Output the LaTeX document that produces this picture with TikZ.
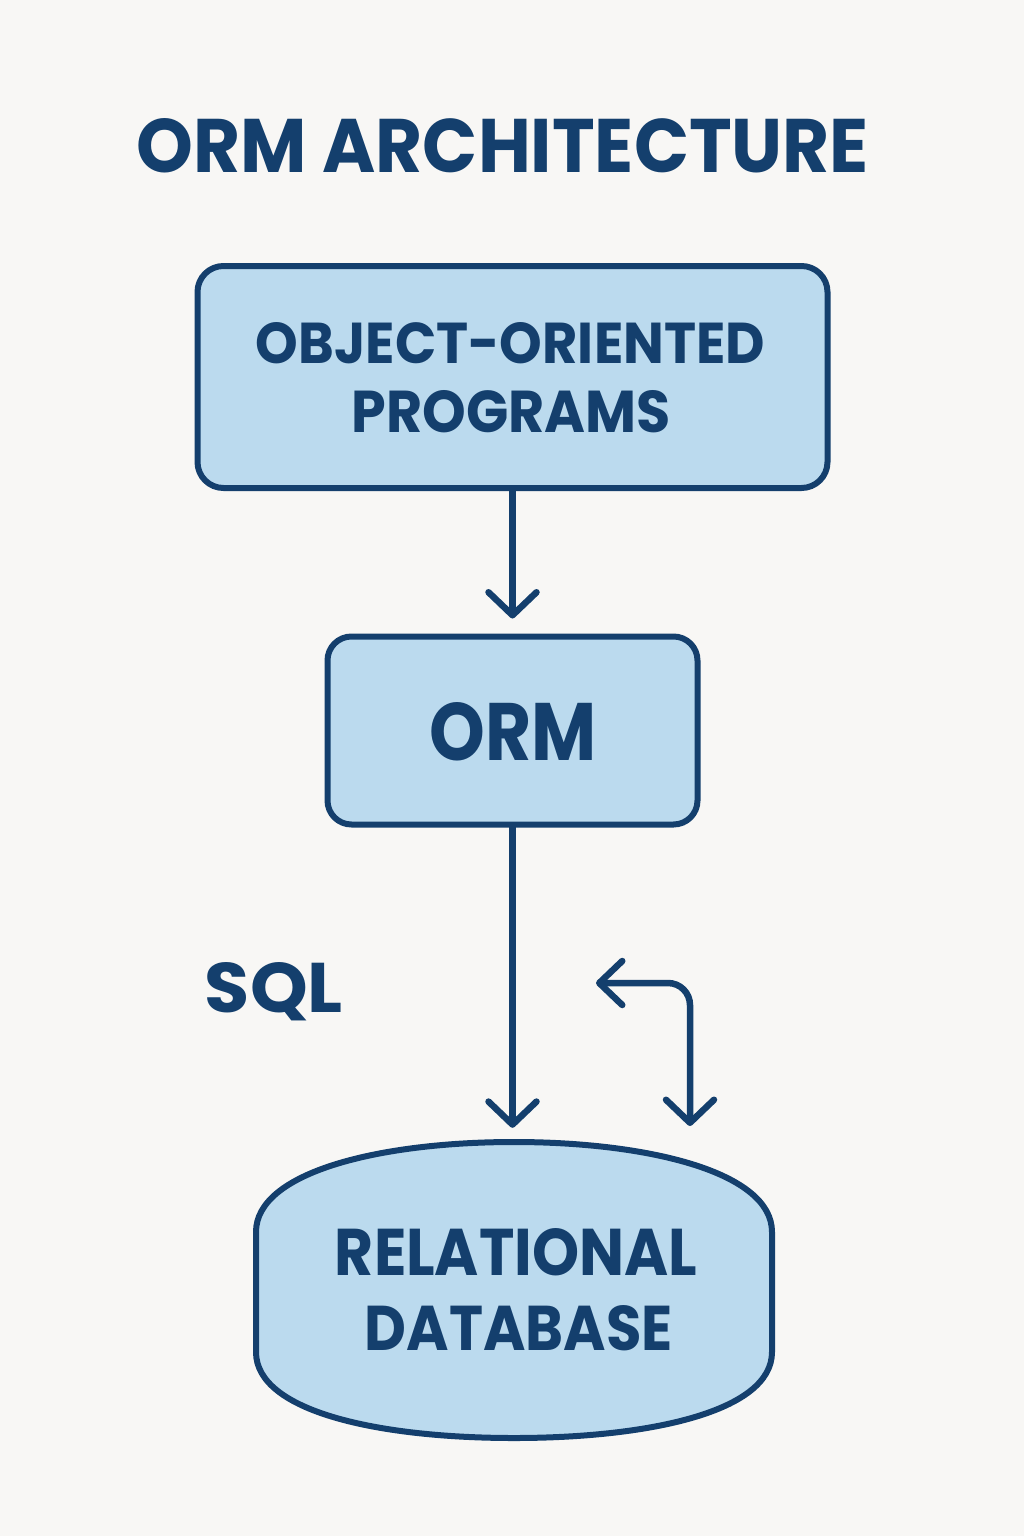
\documentclass[tikz,border=0pt]{standalone}
\usepackage{fontspec}
\setmainfont{Poppins}
\usepackage{graphicx}
\usetikzlibrary{arrows.meta}
\definecolor{navy}{HTML}{143F6D}
\definecolor{boxfill}{HTML}{BBDAEE}
\definecolor{bgc}{HTML}{F8F7F5}
\newcommand\fitt[3]{\resizebox{#1pt}{#2pt}{\bfseries #3}}
\begin{document}
\begin{tikzpicture}[x=1pt,y=-1pt,
  lbl/.style={inner sep=0pt,anchor=base,text=navy},
  boxx/.style={draw=navy,fill=boxfill,line width=6pt,rounded corners=26pt,inner sep=0pt},
  conn/.style={draw=navy,line width=6.5pt,line cap=round,line join=round,
    -{Straight Barb[length=23pt,width=48pt,round]}}]
\fill[bgc] (0,0) rectangle (1024,1536);
\useasboundingbox (0,0) rectangle (1024,1536);
% title
\node[lbl] (title) at (503,172) {\fitt{732}{54}{ORM ARCHITECTURE}};
% boxes
\node[boxx,minimum width=630pt,minimum height=222pt] (oop) at (512.5,377) {};
\node[lbl] (oop1) at (510.5,363) {\fitt{509}{41}{OBJECT-ORIENTED}};
\node[lbl] (oop2) at (511.5,432) {\fitt{319}{42}{PROGRAMS}};
\node[boxx,minimum width=370pt,minimum height=188pt,rounded corners=24pt] (orm) at (512.5,730.5) {};
\node[lbl] (ormt) at (513.5,760) {\fitt{167}{58}{ORM}};
% database
\node[inner sep=0pt,minimum width=518pt,minimum height=296pt] (db) at (512.5,1290) {};
\draw[navy,fill=boxfill,line width=6pt]
  (256,1232) .. controls (256,1172) and (380,1142) .. (514,1142)
  .. controls (648,1142) and (772,1172) .. (772,1232)
  -- (772,1352) .. controls (772,1412) and (648,1438) .. (514,1438)
  .. controls (380,1438) and (256,1412) .. (256,1352) -- cycle;
\node[lbl] (db1) at (516,1275) {\fitt{362}{47}{RELATIONAL}};
\node[lbl] (db2) at (519,1350) {\fitt{308}{45}{DATABASE}};
% SQL
\node[lbl] (sql) at (274,1012) {\fitt{138}{50}{SQL}};
% connectors
\draw[conn,shorten >=15pt] (oop.south) -- (orm.north);
\draw[conn,shorten >=14pt] (orm.south) -- (db.north);
\coordinate (bl) at (596,983);
\coordinate (bd) at (690,1126);
\draw[conn,{Straight Barb[length=23pt,width=44pt,round]}-{Straight Barb[length=23pt,width=48pt,round]},rounded corners=22pt] (bl) -| (bd);
\end{tikzpicture}
\end{document}
